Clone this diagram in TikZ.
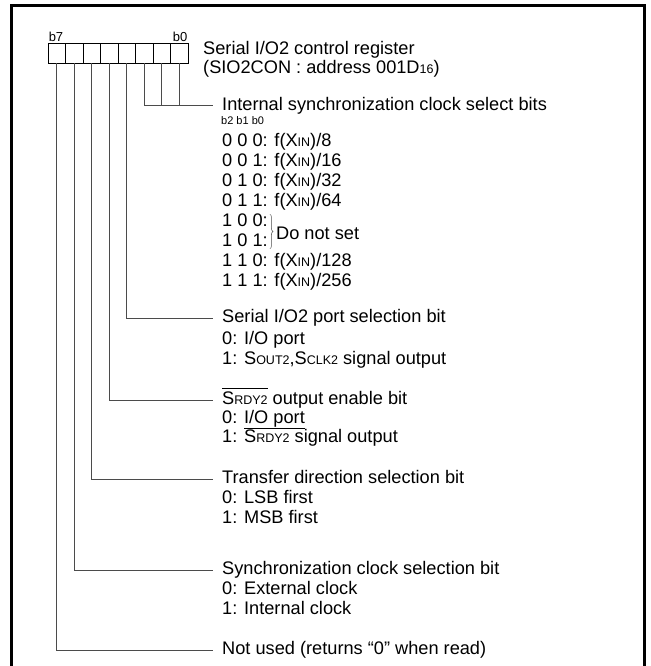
\documentclass[tikz,border=0pt]{standalone}
\usepackage{fontspec}
\setmainfont{Liberation Sans}
\usetikzlibrary{decorations.pathreplacing}
\definecolor{wiregray}{RGB}{75,75,75}
\newcommand{\lo}[1]{{\fontsize{12.5}{12.5}\selectfont #1}}
\newcommand{\rdy}{\ensuremath{\overline{\hbox{\raisebox{0pt}[15pt]{S\lo{RDY2}}}}}}

\begin{document}
\begin{tikzpicture}[x=1pt,y=-1pt,
  txt/.style={anchor=west,inner sep=0pt,text height=13pt,text depth=4pt,font=\fontsize{18.2}{20}\selectfont},
  cell/.style={draw=black,line width=0.9pt,minimum width=17.5pt,minimum height=20pt,inner sep=0pt},
  bitlbl/.style={inner sep=1pt,font=\fontsize{13}{13}\selectfont},
  wire/.style={wiregray,line width=1pt}]
  \useasboundingbox (0,0) rectangle (650,666);
  % frame (open at the bottom)
  \draw[line width=2.4pt] (11.5,666) -- (11.5,5.5) -- (644.5,5.5) -- (644.5,666);
  % register cells, b7 on the left
  \foreach \i in {0,...,7}
    \node[cell] (c\i) at (179.25-17.5*\i,53) {};
  \node[bitlbl,anchor=south west] (lb7) at (c7.north west) {b7};
  \node[bitlbl,anchor=south east] (lb0) at (c0.north east) {b0};
  \node[txt] (treg1) at (203,50) {Serial I/O2 control register};
  \node[txt] (treg2) at (203,69) {(SIO2CON : address 001D\lo{16})};
  % bits 2..0
  \node[txt] (tclk) at (222,106) {Internal synchronization clock select bits};
  \node[txt,font=\fontsize{11}{11}\selectfont,text height=8pt,text depth=1pt] (tclkh) at (221,121) {b2 b1 b0};
  \foreach \b/\d [count=\k from 0] in {0 0 0/8,0 0 1/16,0 1 0/32,0 1 1/64}
    \node[txt] (v\k) at (222,142+20*\k) {\b: f(X\lo{IN})/\d};
  \node[txt] (v4) at (222,222) {1 0 0:};
  \node[txt] (v5) at (222,242) {1 0 1:};
  \node[txt] (v6) at (222,262) {1 1 0: f(X\lo{IN})/128};
  \node[txt] (v7) at (222,282) {1 1 1: f(X\lo{IN})/256};
  \draw[decorate,decoration={brace,amplitude=3pt},wiregray,line width=0.5pt] ([xshift=2pt,yshift=-1pt]v4.north east) -- ([xshift=2pt,yshift=2pt]v5.south east);
  \node[txt] (tdns) at ([xshift=8pt,yshift=-4pt]v4.south east) {Do not set};
  % bit 3
  \node[txt] (tport) at (222,318) {Serial I/O2 port selection bit};
  \node[txt] (tport0) at (222,340) {0: I/O port};
  \node[txt] (tport1) at (222,360) {1: S\lo{OUT2},S\lo{CLK2} signal output};
  % bit 4
  \node[txt] (trdy) at (222,400) {\rdy{} output enable bit};
  \node[txt] (trdy0) at (222,419) {0: \underline{I/O port}};
  \node[txt] (trdy1) at (222,438) {1: S\lo{RDY2} signal output};
  % bit 5
  \node[txt] (tdir) at (222,479) {Transfer direction selection bit};
  \node[txt] (tdir0) at (222,499) {0: LSB first};
  \node[txt] (tdir1) at (222,519) {1: MSB first};
  % bit 6
  \node[txt] (tsync) at (222,570) {Synchronization clock selection bit};
  \node[txt] (tsync0) at (222,590) {0: External clock};
  \node[txt] (tsync1) at (222,610) {1: Internal clock};
  % bit 7
  \node[txt] (tnu) at (222,650) {Not used (returns “0” when read)};
  % wires
  \draw[wire] (c2.south) |- ([xshift=-9.5pt]tclk.west);
  \draw[wire] (c1.south) -- (c1.south |- tclk.west);
  \draw[wire] (c0.south) -- (c0.south |- tclk.west);
  \draw[wire] (c3.south) |- ([xshift=-9.5pt]tport.west);
  \draw[wire] (c4.south) |- ([xshift=-9.5pt]trdy.west);
  \draw[wire] (c5.south) |- ([xshift=-9.5pt]tdir.west);
  \draw[wire] (c6.south) |- ([xshift=-9.5pt]tsync.west);
  \draw[wire] (c7.south) |- ([xshift=-9.5pt]tnu.west);
\end{tikzpicture}
\end{document}
